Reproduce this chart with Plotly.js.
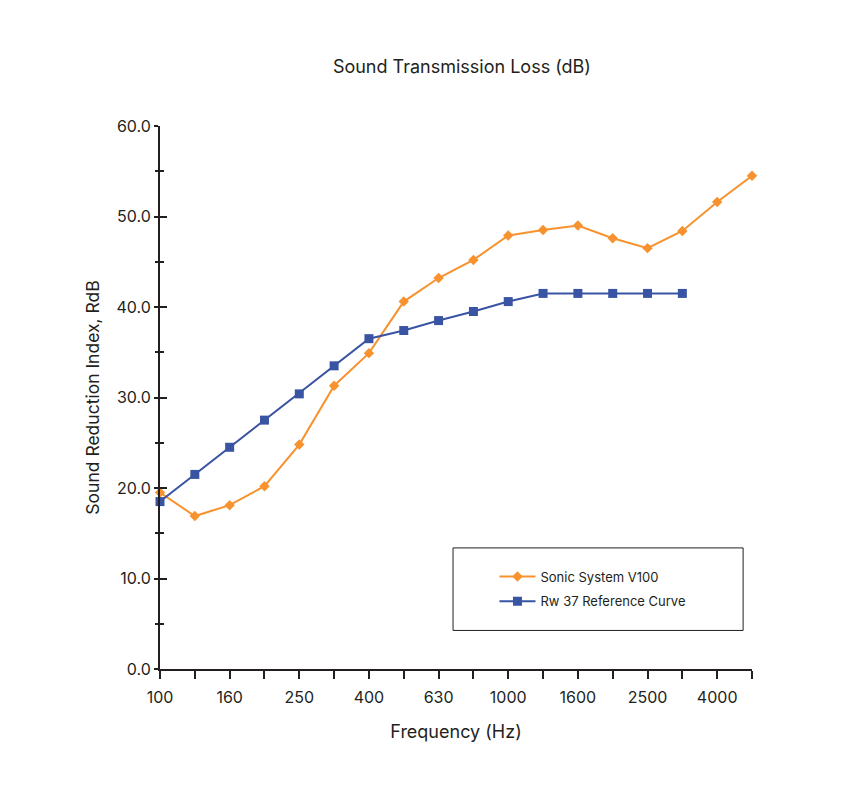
<!DOCTYPE html>
<html>
<head>
<meta charset="utf-8">
<script src="https://cdn.plot.ly/plotly-3.0.1.min.js"></script>
<style>
    html, body { margin: 0; padding: 0; background: #ffffff; }
    #chart { width: 841px; height: 803px; }
</style>
</head>
<body>
<div id="chart"></div>
<script>
// one-third octave band centre frequencies, Hz
const FREQUENCIES = ["100", "125", "160", "200", "250", "315", "400", "500", "630", "800",
    "1000", "1250", "1600", "2000", "2500", "3150", "4000", "5000"];
// only every other band is labelled
const TICK_LABELS = ["100", "", "160", "", "250", "", "400", "", "630", "",
    "1000", "", "1600", "", "2500", "", "4000", ""];

const SONIC_V100 = [19.5, 16.9, 18.1, 20.2, 24.8, 31.3, 34.9, 40.6, 43.2, 45.2,
    47.9, 48.5, 49.0, 47.6, 46.5, 48.4, 51.6, 54.5];
// the reference curve stops at 3150 Hz
const RW37_CURVE = [18.5, 21.5, 24.5, 27.5, 30.4, 33.5, 36.5, 37.4, 38.5, 39.5,
    40.6, 41.5, 41.5, 41.5, 41.5, 41.5];

const ORANGE = "#F7922F";
const BLUE = "#3A54A4";
const INK = "#231f20";
const FONT = "Inter, \"Noto Sans\", sans-serif";

const traces = [
    {
        type: "scatter",
        mode: "lines+markers",
        name: "Sonic System V100",
        legendgroup: "sonic",
        x: FREQUENCIES,
        y: SONIC_V100,
        line: { color: ORANGE, width: 2 },
        marker: { symbol: "diamond", size: 8, color: ORANGE },
        cliponaxis: false,
    },
    {
        type: "scatter",
        mode: "lines+markers",
        name: "Rw 37 Reference Curve",
        legendgroup: "rw37",
        x: FREQUENCIES.slice(0, RW37_CURVE.length),
        y: RW37_CURVE,
        // sits on the twin y axis (same scale) so that axis gets drawn
        yaxis: "y2",
        line: { color: BLUE, width: 2 },
        marker: { symbol: "square", size: 9, color: BLUE },
        cliponaxis: false,
    },
];

const layout = {
    width: 841,
    height: 803,
    margin: { l: 160, r: 89, t: 126, b: 134 },
    paper_bgcolor: "#ffffff",
    plot_bgcolor: "#ffffff",
    font: { family: FONT, color: INK, size: 16 },
    title: {
        text: "Sound Transmission Loss (dB)",
        font: { family: FONT, size: 18, color: INK },
        xref: "paper",
        x: 0.51,
        xanchor: "center",
        y: 0.917,
        yanchor: "middle",
    },
    showlegend: true,
    legend: {
        x: 0.565,
        y: 0.198,
        xanchor: "left",
        yanchor: "top",
        bgcolor: "rgba(0,0,0,0)",
        borderwidth: 0,
        font: { family: FONT, size: 13, color: INK },
        itemwidth: 36,
        tracegroupgap: 5,
    },
    shapes: [
        {
            type: "rect",
            xref: "paper",
            yref: "paper",
            x0: 0.495,
            x1: 0.985,
            y0: 0.071,
            y1: 0.223,
            line: { color: INK, width: 1 },
            fillcolor: "rgba(0,0,0,0)",
        },
    ],
    xaxis: {
        type: "category",
        categoryorder: "array",
        categoryarray: FREQUENCIES,
        range: [0, FREQUENCIES.length - 1],
        tickmode: "array",
        tickvals: FREQUENCIES,
        ticktext: TICK_LABELS,
        ticks: "outside",
        ticklen: 8,
        tickwidth: 2,
        tickcolor: INK,
        ticklabelstandoff: 5,
        showline: true,
        linecolor: INK,
        linewidth: 2,
        showgrid: false,
        zeroline: false,
        tickfont: { family: FONT, size: 16, color: INK },
        title: {
            text: "Frequency (Hz)",
            font: { family: FONT, size: 18, color: INK },
            standoff: 19,
        },
    },
    yaxis: {
        range: [0, 60],
        dtick: 10,
        tickformat: ".1f",
        ticks: "outside",
        ticklen: 4,
        tickwidth: 2,
        tickcolor: INK,
        minor: { dtick: 5, ticks: "outside", ticklen: 3, tickwidth: 2, tickcolor: INK },
        showline: true,
        linecolor: INK,
        linewidth: 2,
        showgrid: false,
        zeroline: false,
        tickfont: { family: FONT, size: 16, color: INK },
        title: {
            text: "Sound Reduction Index, RdB",
            font: { family: FONT, size: 17.5, color: INK },
            standoff: 12,
        },
    },
    // twin of the y axis so ticks cross the line like the original
    yaxis2: {
        overlaying: "y",
        matches: "y",
        anchor: "x",
        side: "left",
        range: [0, 60],
        dtick: 10,
        ticks: "inside",
        ticklen: 7,
        tickwidth: 2,
        tickcolor: INK,
        minor: { dtick: 5, ticks: "inside", ticklen: 4, tickwidth: 2, tickcolor: INK },
        showticklabels: false,
        showline: false,
        showgrid: false,
        zeroline: false,
    },
};

Plotly.newPlot("chart", traces, layout, { displayModeBar: false, staticPlot: true });
</script>
</body>
</html>
